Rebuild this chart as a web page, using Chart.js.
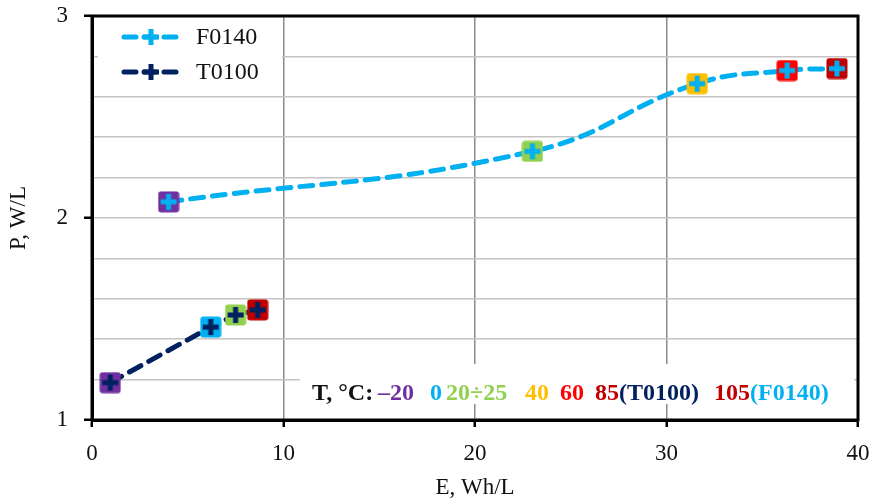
<!DOCTYPE html>
<html>
<head>
<meta charset="utf-8">
<script src="https://cdn.jsdelivr.net/npm/chart.js@4.4.1/dist/chart.umd.min.js"></script>
<style>
html,body{margin:0;padding:0;background:#fff;}
#wrap{width:876px;height:499px;position:relative;}
</style>
</head>
<body>
<div id="wrap"><canvas id="c" width="876" height="499"></canvas></div>
<script>
// ---- data ----
const f0140E = [4.0, 23.0, 31.6, 36.3, 38.9];
const f0140P = [2.08, 2.33, 2.665, 2.73, 2.74];
const f0140Temps = ['-20', '20÷25', '40', '60', '105'];
const t0100E = [0.95, 6.2, 7.5, 8.65];
const t0100P = [1.185, 1.46, 1.52, 1.545];
const t0100Temps = ['-20', '0', '20÷25', '85'];
const xTicks = [0, 10, 20, 30, 40];
const yTicks = [1, 2, 3];

// ---- styles ----
const tempColor = {'-20':'#7030A0','0':'#00B0F0','20÷25':'#92D050','40':'#FFC000','60':'#FF0000','85':'#C00000','105':'#C00000'};
const F_COLOR = '#00B0F0';
const T_COLOR = '#002060';
const SERIF = '"Liberation Serif", "DejaVu Serif", serif';

function marker(fill, plus) {
  const s = 22, c = document.createElement('canvas');
  c.width = s; c.height = s;
  const g = c.getContext('2d');
  g.fillStyle = fill;
  g.beginPath();
  if (g.roundRect) g.roundRect(0.5, 0.5, s - 1, s - 1, 3); else g.rect(0.5, 0.5, s - 1, s - 1);
  g.fill();
  g.fillStyle = plus;
  const arm = 16, th = 5;
  g.fillRect((s - arm) / 2, (s - th) / 2, arm, th);
  g.fillRect((s - th) / 2, (s - arm) / 2, th, arm);
  return c;
}

const fData = f0140E.map((e, i) => ({x: e, y: f0140P[i]}));
const tData = t0100E.map((e, i) => ({x: e, y: t0100P[i]}));
const fMarkers = f0140Temps.map(t => marker(tempColor[t], F_COLOR));
const tMarkers = t0100Temps.map(t => marker(tempColor[t], T_COLOR));

const isInt = v => Math.abs(v - Math.round(v)) < 1e-6;
const noOverhang = s => { s.paddingTop = 0; s.paddingBottom = 0; s.paddingLeft = 0; s.paddingRight = 0; };

const decor = {
  id: 'decor',
  beforeDatasetsDraw(chart) {
    const ctx = chart.ctx, a = chart.chartArea;
    ctx.save();
    ctx.fillStyle = '#fff';
    ctx.fillRect(a.left + 6, a.top + 2, 184, 72);
    ctx.fillRect(300, 364, a.right - 300 - 4, 40);
    ctx.restore();
  },
  afterDatasetsDraw(chart) {
    const ctx = chart.ctx, a = chart.chartArea;
    ctx.save();
    ctx.strokeStyle = '#000';
    ctx.lineWidth = 3;
    ctx.strokeRect(a.left, a.top, a.right - a.left, a.bottom - a.top);
    const items = [{label: 'F0140', color: F_COLOR, y: 37}, {label: 'T0100', color: T_COLOR, y: 72}];
    items.forEach(it => {
      ctx.strokeStyle = it.color;
      ctx.lineWidth = 5;
      ctx.lineCap = 'round';
      ctx.setLineDash([12, 8]);
      ctx.beginPath();
      ctx.moveTo(124, it.y); ctx.lineTo(181, it.y);
      ctx.stroke();
      ctx.setLineDash([]);
      ctx.fillStyle = it.color;
      ctx.fillRect(143, it.y - 2.5, 16, 5);
      ctx.fillRect(148.5, it.y - 8, 5, 16);
      ctx.fillStyle = '#111';
      ctx.font = '24px ' + SERIF;
      ctx.textBaseline = 'middle';
      ctx.textAlign = 'left';
      ctx.fillText(it.label, 196, it.y + 1);
    });
    ctx.font = 'bold 24px ' + SERIF;
    ctx.textBaseline = 'alphabetic';
    const segs = [
      ['T, °C:', '#111', 312], ['–20', tempColor['-20'], 378], ['0', tempColor['0'], 430],
      ['20÷25', tempColor['20÷25'], 446], ['40', tempColor['40'], 525], ['60', tempColor['60'], 560],
      ['85', tempColor['85'], 595], ['(T0100)', T_COLOR, null],
      ['105', tempColor['105'], 714], ['(F0140)', F_COLOR, null]
    ];
    let x = 0;
    segs.forEach(s => {
      if (s[2] !== null) x = s[2];
      ctx.fillStyle = s[1];
      ctx.fillText(s[0], x, 400);
      x += ctx.measureText(s[0]).width;
    });
    ctx.restore();
  }
};

new Chart(document.getElementById('c'), {
  type: 'scatter',
  data: {
    datasets: [
      {
        label: 'F0140', data: fData, showLine: true, tension: 0.45,
        borderColor: F_COLOR, borderWidth: 5, borderDash: [13, 9], borderCapStyle: 'round',
        pointStyle: fMarkers, pointRadius: 11, pointHoverRadius: 11, backgroundColor: F_COLOR
      },
      {
        label: 'T0100', data: tData, showLine: true, tension: 0,
        borderColor: T_COLOR, borderWidth: 5, borderDash: [13, 9], borderCapStyle: 'round',
        pointStyle: tMarkers, pointRadius: 11, pointHoverRadius: 11, backgroundColor: T_COLOR
      }
    ]
  },
  options: {
    responsive: false,
    animation: false,
    events: [],
    layout: {padding: {left: 0, right: 18, top: 16, bottom: 0}},
    plugins: {legend: {display: false}, tooltip: {enabled: false}},
    scales: {
      x: {
        type: 'linear', min: 0, max: 40,
        afterBuildTicks: s => { s.ticks = xTicks.map(v => ({value: v})); },
        ticks: {font: {family: SERIF, size: 23}, color: '#111', padding: 13, maxRotation: 0},
        grid: {color: '#8c8c8c', lineWidth: 1.5, tickLength: 7, tickColor: '#000', tickWidth: 2.5, drawOnChartArea: true},
        border: {color: '#000', width: 3},
        title: {display: true, text: 'E, Wh/L', font: {family: SERIF, size: 23, lineHeight: 1}, color: '#111', padding: {top: 0, bottom: 0}},
        afterFit: s => { s.height = 79; noOverhang(s); }
      },
      y: {
        type: 'linear', min: 1, max: 3,
        ticks: {stepSize: 0.2, font: {family: SERIF, size: 23}, color: '#111', padding: 16,
          callback: v => isInt(v) ? String(Math.round(v)) : ''},
        grid: {color: '#c4c4c4', lineWidth: 1.5, tickLength: 8,
          tickColor: c => (c.tick && isInt(c.tick.value)) ? '#000' : 'rgba(0,0,0,0)', tickWidth: 2.5},
        border: {color: '#000', width: 3},
        title: {display: true, text: 'P, W/L', font: {family: SERIF, size: 23, lineHeight: 1}, color: '#111', padding: {top: 7, bottom: 0}},
        afterFit: s => { s.width = 92; noOverhang(s); }
      }
    }
  },
  plugins: [decor]
});
</script>
</body>
</html>
